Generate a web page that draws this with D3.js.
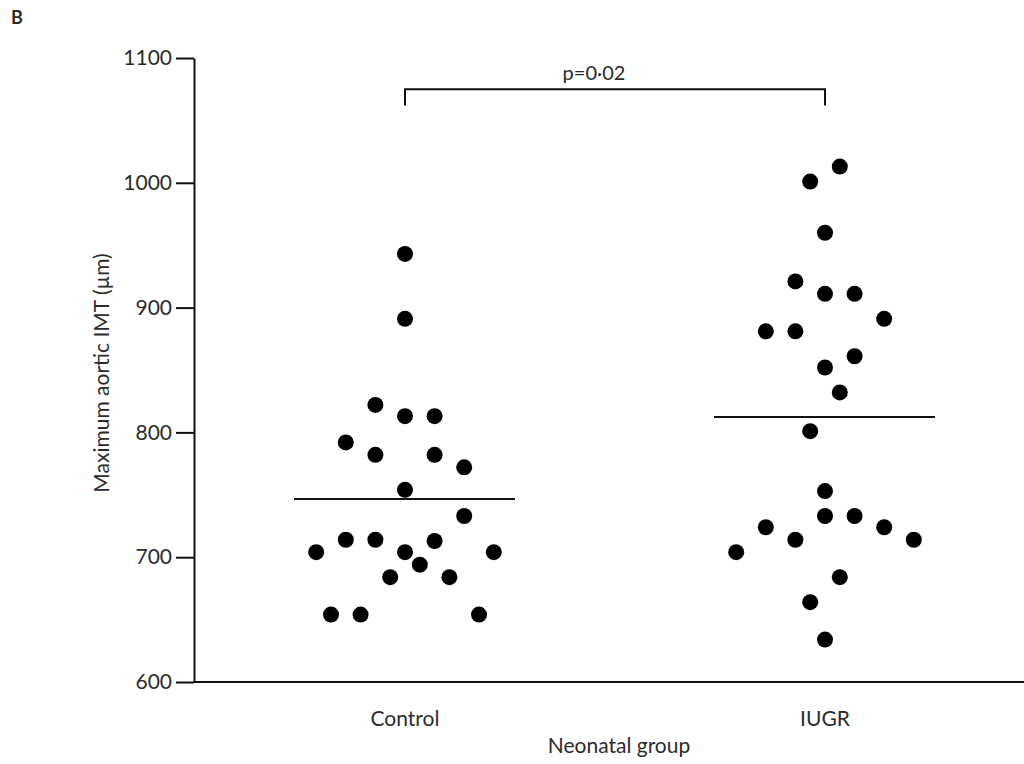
<html>
    <head>
        <title>Aortic IMT by neonatal group</title>
        <style>
            body { margin: 0; background: #fff; }
            text { font-family: Lato, "Open Sans", sans-serif; fill: #2b2b2b; }
        </style>
    </head>

    <body>
        <div id="svghere"></div>

        <script src="https://d3js.org/d3.v7.min.js"></script>
        <script>
        // data
        var categories = ["Control", "IUGR"];
        var yTicks = [600, 700, 800, 900, 1000, 1100];

        var controlValues = [943, 891, 822, 813, 813, 792, 782, 782, 772, 754, 733, 714,
                             714, 713, 704, 704, 704, 694, 684, 684, 654, 654, 654];
        // horizontal slot of each dot in the dot plot (half-dot steps from centre)
        var controlSlots  = [0, 0, -2, 0, 2, -4, -2, 2, 4, 0, 4, -4,
                             -2, 2, -6, 0, 6, 1, -1, 3, -5, -3, 5];

        var iugrValues = [1013, 1001, 960, 921, 911, 911, 891, 881, 881, 861, 852, 832,
                          801, 753, 733, 733, 724, 724, 714, 714, 704, 684, 664, 634];
        var iugrSlots  = [1, -1, 0, -2, 0, 2, 4, -4, -2, 2, 0, 1,
                          -1, 0, 0, 2, -4, 4, -2, 6, -6, 1, -1, 0];

        var pLabel = "p=0·02";

        var svg = d3.select("#svghere")
            .append('svg')
            .attr('width', 1024)
            .attr('height', 764);

        var x = d3.scalePoint()
            .domain(categories)
            .range([405, 825]);

        var y = d3.scaleLinear()
            .domain([600, 1100])
            .range([682, 58]);

        var slot = d3.scaleLinear()
            .domain([0, 1])
            .range([0, 14.8]);

        var groups = [
            { name: "Control", values: controlValues, slots: controlSlots },
            { name: "IUGR", values: iugrValues, slots: iugrSlots }
        ];

        var points = [];
        groups.forEach(function(g) {
            g.values.forEach(function(v, i) {
                points.push({ group: g.name, value: v, slot: g.slots[i] });
            });
        });

        // y axis
        var yAxis = svg.append('g')
            .attr('transform', 'translate(194,0)')
            .call(d3.axisLeft(y)
                .tickValues(yTicks)
                .tickFormat(d3.format('d'))
                .tickSize(18)
                .tickSizeOuter(0)
                .tickPadding(4));

        yAxis.selectAll('path, line')
            .attr('stroke', '#111')
            .attr('stroke-width', 2);
        yAxis.selectAll('text')
            .attr('font-family', 'Lato, "Open Sans", sans-serif')
            .attr('font-size', 21)
            .attr('fill', '#2b2b2b');

        // x axis baseline, no ticks
        svg.append('line')
            .attr('x1', 193)
            .attr('x2', 1024)
            .attr('y1', y(600))
            .attr('y2', y(600))
            .attr('stroke', '#111')
            .attr('stroke-width', 2);

        svg.selectAll('.cat')
            .data(categories)
            .enter()
            .append('text')
            .attr('class', 'cat')
            .attr('x', function(d) { return x(d); })
            .attr('y', 726)
            .attr('text-anchor', 'middle')
            .attr('font-size', 21)
            .text(function(d) { return d; });

        svg.append('text')
            .attr('x', 619)
            .attr('y', 753)
            .attr('text-anchor', 'middle')
            .attr('font-size', 21)
            .text('Neonatal group');

        svg.append('text')
            .attr('transform', 'translate(109,373) rotate(-90)')
            .attr('text-anchor', 'middle')
            .attr('font-size', 21)
            .text('Maximum aortic IMT (\u00b5m)');

        svg.append('text')
            .attr('x', 11)
            .attr('y', 24)
            .attr('font-size', 18)
            .attr('font-weight', 'bold')
            .text('B');

        // dots
        svg.selectAll('circle')
            .data(points)
            .enter()
            .append('circle')
            .attr('cx', function(d) { return x(d.group) + slot(d.slot); })
            .attr('cy', function(d) { return y(d.value); })
            .attr('r', 8)
            .attr('fill', '#000');

        // group means
        svg.selectAll('.mean')
            .data(groups)
            .enter()
            .append('line')
            .attr('class', 'mean')
            .attr('x1', function(d) { return x(d.name) - 111; })
            .attr('x2', function(d) { return x(d.name) + 110; })
            .attr('y1', function(d) { return y(d3.mean(d.values)); })
            .attr('y2', function(d) { return y(d3.mean(d.values)); })
            .attr('stroke', '#111')
            .attr('stroke-width', 2);

        // significance bracket
        var bTop = y(1075), bFoot = y(1062);
        svg.append('path')
            .attr('d', 'M' + x('Control') + ',' + bFoot + 'V' + bTop +
                       'H' + x('IUGR') + 'V' + bFoot)
            .attr('fill', 'none')
            .attr('stroke', '#111')
            .attr('stroke-width', 2);

        svg.append('text')
            .attr('x', x('Control') + (x('IUGR') - x('Control')) * 0.45)
            .attr('y', 80)
            .attr('text-anchor', 'middle')
            .attr('font-size', 20)
            .text(pLabel);
        </script>
    </body>
</html>
